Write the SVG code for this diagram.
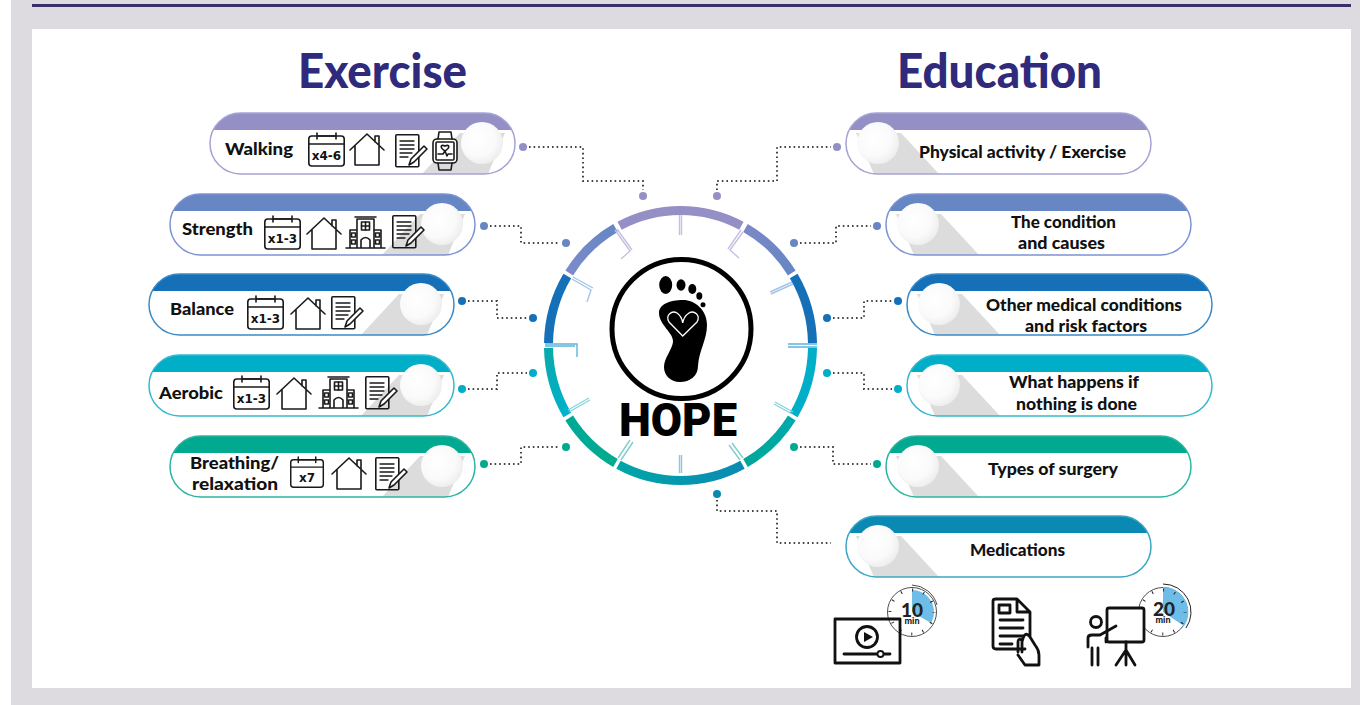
<svg xmlns="http://www.w3.org/2000/svg" width="1360" height="705" viewBox="0 0 1360 705">
<style>
.t{font-family:"Lato","Liberation Sans",sans-serif;font-weight:900;fill:#111}
.l{font-size:17px}
.h{font-family:"Lato","Liberation Sans",sans-serif;font-weight:900;font-size:48px;fill:#2f2a7c}
.k{fill:url(#kn)}
.sh{fill:#dcdcdc}
.ic{fill:none;stroke:#1a1a1a;stroke-width:1.6;stroke-linejoin:round;stroke-linecap:round}
.cal{font-family:"DejaVu Sans","Liberation Sans",sans-serif;font-weight:700;font-size:12px;fill:#111;text-anchor:middle}
.dot{fill:none;stroke:#444;stroke-width:2;stroke-dasharray:1.6 3}
.b{fill:none;stroke-width:1.5}
.seg{fill:none;stroke-width:9}
.tick{fill:none;stroke-width:1.4}
.bi{fill:none;stroke:#111;stroke-width:2.8;stroke-linejoin:round;stroke-linecap:round}
</style>
<defs>
<radialGradient id="kn" cx="0.4" cy="0.4" r="0.7"><stop offset="0" stop-color="#fff"/><stop offset="0.6" stop-color="#fafafa"/><stop offset="1" stop-color="#e9e9e9"/></radialGradient>
<linearGradient id="g2" gradientUnits="userSpaceOnUse" x1="745" y1="228" x2="792" y2="273"><stop offset="0" stop-color="#7a88c8"/><stop offset="1" stop-color="#6686c4"/></linearGradient>
<linearGradient id="g5" gradientUnits="userSpaceOnUse" x1="792" y1="418" x2="745" y2="463"><stop offset="0" stop-color="#00a9ab"/><stop offset="1" stop-color="#00a798"/></linearGradient>
<linearGradient id="g6" gradientUnits="userSpaceOnUse" x1="618" y1="465" x2="742" y2="465"><stop offset="0" stop-color="#00a6a8"/><stop offset="1" stop-color="#0a8ab3"/></linearGradient>
<linearGradient id="g7" gradientUnits="userSpaceOnUse" x1="615" y1="463" x2="569" y2="418"><stop offset="0" stop-color="#00ad8d"/><stop offset="1" stop-color="#00a898"/></linearGradient>
<linearGradient id="g8" gradientUnits="userSpaceOnUse" x1="567" y1="415" x2="548" y2="348"><stop offset="0" stop-color="#00b2cc"/><stop offset="1" stop-color="#0aa9a9"/></linearGradient>
<linearGradient id="g10" gradientUnits="userSpaceOnUse" x1="569" y1="273" x2="615" y2="228"><stop offset="0" stop-color="#7c8bcb"/><stop offset="1" stop-color="#6686c4"/></linearGradient>
<clipPath id="p305"><rect x="0" y="0" width="305" height="61" rx="30.5"/></clipPath>
<g id="cal" class="ic"><rect x="0.8" y="3" width="35.4" height="30" rx="3"/><path d="M1 11H36M9 0V6M28 0V6M9 3H28"/></g>
<g id="home" class="ic"><path d="M0 17L17 1L34 17M5 13V32H29V13M25 9V3H29V12"/></g>
<g id="doc" class="ic"><rect x="0.8" y="0.8" width="23" height="32" rx="1"/><path d="M5 7H19M5 11H19M5 15H19M5 19H17M5 23H13" stroke-width="1.3"/><path d="M14 31L16 25L29 12L32 15L19 28Z" fill="#fff"/></g>
<g id="bld" class="ic"><path d="M0 32H39M4 32V14H11V32M35 32V14H28V32M11 32V3H28V32M9 1H30M15 32V24Q19.500 19 24 24V32"/><rect x="15.500" y="6" width="8" height="8"/><path d="M19.500 6V14M15.500 10H23.500"/><rect x="5.500" y="17" width="4" height="4"/><rect x="5.500" y="24" width="4" height="4"/><rect x="29.500" y="17" width="4" height="4"/><rect x="29.500" y="24" width="4" height="4"/></g>
</defs>

<rect width="1360" height="705" fill="#dddae0"/>
<rect width="11" height="705" fill="#fff"/>
<rect x="32" y="4" width="1319" height="3" fill="#3a2f6b"/>
<rect x="32" y="29" width="1319" height="659" fill="#fff"/>

<text class="h" x="298" y="88" textLength="169" lengthAdjust="spacingAndGlyphs">Exercise</text>
<text class="h" x="897" y="88" textLength="205" lengthAdjust="spacingAndGlyphs">Education</text>

<g id="connectors">
<path class="dot" d="M529 147H583V181H643V190"/>
<path class="dot" d="M490 226H521V243H560"/>
<path class="dot" d="M468 301H497V318H527"/>
<path class="dot" d="M468 389H497V373H527"/>
<path class="dot" d="M490 464H521V447H560"/>
<path class="dot" d="M717 190V181H777V147H831"/>
<path class="dot" d="M800 243H836V226H871"/>
<path class="dot" d="M833 318H864V301H892"/>
<path class="dot" d="M833 373H864V389H892"/>
<path class="dot" d="M800 447H833V464H871"/>
<path class="dot" d="M717 500V511H777V543H831"/>
<g fill="#9490c6"><circle cx="523" cy="147" r="4"/><circle cx="643" cy="196" r="4"/><circle cx="717" cy="196" r="4"/><circle cx="837" cy="147" r="4"/></g>
<g fill="#6686c4"><circle cx="484" cy="226" r="4"/><circle cx="566" cy="243" r="4"/><circle cx="794" cy="243" r="4"/><circle cx="877" cy="226" r="4"/></g>
<g fill="#1570b8"><circle cx="462" cy="301" r="4"/><circle cx="533" cy="318" r="4"/><circle cx="827" cy="318" r="4"/><circle cx="898" cy="301" r="4"/></g>
<g fill="#00aec7"><circle cx="462" cy="389" r="4"/><circle cx="533" cy="373" r="4"/><circle cx="827" cy="373" r="4"/><circle cx="898" cy="389" r="4"/></g>
<g fill="#00a98f"><circle cx="484" cy="464" r="4"/><circle cx="566" cy="447" r="4"/><circle cx="794" cy="447" r="4"/><circle cx="877" cy="464" r="4"/></g>
<circle cx="717" cy="494" r="4" fill="#0a8ab3"/>
</g>

<g id="walking" transform="translate(210 113)">
<g clip-path="url(#p305)"><path class="sh" d="M250 20H295L278 61H212Z"/><rect width="305" height="17" fill="#9490c6"/></g>
<rect class="b" stroke="#a5a2d4" width="305" height="61" rx="30.5"/><circle class="k" cx="272" cy="30" r="21"/>
<text class="t l" x="15" y="42" textLength="68" lengthAdjust="spacingAndGlyphs">Walking</text>
<use href="#cal" x="98" y="20"/><text class="cal" x="116.500" y="47">x4-6</text>
<use href="#home" x="140" y="20"/><use href="#doc" x="185" y="21"/>
<g class="ic" stroke-width="2" transform="translate(222 18)"><rect x="1" y="8" width="24" height="24" rx="4" fill="#fff"/><rect x="4" y="11" width="18" height="18" rx="1"/><path d="M6 8L7 1H19L20 8M6 32L7 39H19L20 32M6 23H11L13 20L15 25L16 23H20"/><path d="M13 20C7 16 9 13 13 15C17 13 19 16 13 20Z"/></g>
</g>

<g id="strength" transform="translate(170 194)">
<g clip-path="url(#p305)"><path class="sh" d="M250 20H295L278 61H212Z"/><rect width="305" height="17" fill="#6686c4"/></g>
<rect class="b" stroke="#7d93d2" width="305" height="61" rx="30.5"/><circle class="k" cx="272" cy="30" r="21"/>
<text class="t l" x="12" y="41" textLength="71" lengthAdjust="spacingAndGlyphs">Strength</text>
<use href="#cal" x="94" y="22"/><text class="cal" x="112.500" y="49">x1-3</text>
<use href="#home" x="137" y="23"/><use href="#bld" x="176" y="22"/><use href="#doc" x="222" y="21"/>
</g>

<g id="balance" transform="translate(149 274)">
<g clip-path="url(#p305)"><path class="sh" d="M250 20H295L278 61H212Z"/><rect width="305" height="17" fill="#1570b8"/></g>
<rect class="b" stroke="#3a8ac6" width="305" height="61" rx="30.500"/><circle class="k" cx="272" cy="30" r="21"/>
<text class="t l" x="21" y="41" textLength="64" lengthAdjust="spacingAndGlyphs">Balance</text>
<use href="#cal" x="98" y="22"/><text class="cal" x="116.500" y="49">x1-3</text>
<use href="#home" x="142" y="23"/><use href="#doc" x="182" y="22"/>
</g>

<g id="aerobic" transform="translate(149 355)">
<g clip-path="url(#p305)"><path class="sh" d="M250 20H295L278 61H212Z"/><rect width="305" height="17" fill="#00aec7"/></g>
<rect class="b" stroke="#35b9cf" width="305" height="61" rx="30.500"/><circle class="k" cx="272" cy="30" r="21"/>
<text class="t l" x="10" y="44" textLength="64" lengthAdjust="spacingAndGlyphs">Aerobic</text>
<use href="#cal" x="84" y="21"/><text class="cal" x="102.500" y="48">x1-3</text>
<use href="#home" x="128" y="22"/><use href="#bld" x="170" y="21"/><use href="#doc" x="216" y="21"/>
</g>

<g id="breathing" transform="translate(170 436)">
<g clip-path="url(#p305)"><path class="sh" d="M250 20H295L278 61H212Z"/><rect width="305" height="17" fill="#00a98f"/></g>
<rect class="b" stroke="#2cb5a0" width="305" height="61" rx="30.500"/><circle class="k" cx="272" cy="30" r="21"/>
<text class="t l" x="20" y="33" textLength="89" lengthAdjust="spacingAndGlyphs">Breathing/</text>
<text class="t l" x="22" y="54" textLength="86" lengthAdjust="spacingAndGlyphs">relaxation</text>
<use href="#cal" transform="translate(120 21) scale(.92)"/><text class="cal" x="137" y="46">x7</text>
<use href="#home" x="162" y="21"/><use href="#doc" x="205" y="21"/>
</g>

<g id="physical" transform="translate(846 113)">
<g clip-path="url(#p305)"><path class="sh" d="M55 20H10L28 61H93Z"/><rect width="305" height="17" fill="#9490c6"/></g>
<rect class="b" stroke="#a5a2d4" width="305" height="61" rx="30.500"/><circle class="k" cx="32" cy="30" r="21"/>
<text class="t l" x="73" y="45" textLength="207" lengthAdjust="spacingAndGlyphs">Physical activity / Exercise</text>
</g>
<g id="condition" transform="translate(886 194)">
<g clip-path="url(#p305)"><path class="sh" d="M55 20H10L28 61H93Z"/><rect width="305" height="17" fill="#6686c4"/></g>
<rect class="b" stroke="#7d93d2" width="305" height="61" rx="30.500"/><circle class="k" cx="32" cy="30" r="21"/>
<text class="t l" x="125" y="34" textLength="105" lengthAdjust="spacingAndGlyphs">The condition</text>
<text class="t l" x="132" y="55" textLength="87" lengthAdjust="spacingAndGlyphs">and causes</text>
</g>
<g id="other" transform="translate(907 274)">
<g clip-path="url(#p305)"><path class="sh" d="M55 20H10L28 61H93Z"/><rect width="305" height="17" fill="#1570b8"/></g>
<rect class="b" stroke="#3a8ac6" width="305" height="61" rx="30.500"/><circle class="k" cx="32" cy="30" r="21"/>
<text class="t l" x="79" y="37" textLength="196" lengthAdjust="spacingAndGlyphs">Other medical conditions</text>
<text class="t l" x="118" y="58" textLength="122" lengthAdjust="spacingAndGlyphs">and risk factors</text>
</g>
<g id="what" transform="translate(907 355)">
<g clip-path="url(#p305)"><path class="sh" d="M55 20H10L28 61H93Z"/><rect width="305" height="17" fill="#00aec7"/></g>
<rect class="b" stroke="#35b9cf" width="305" height="61" rx="30.500"/><circle class="k" cx="32" cy="30" r="21"/>
<text class="t l" x="102" y="33" textLength="130" lengthAdjust="spacingAndGlyphs">What happens if</text>
<text class="t l" x="109" y="55" textLength="121" lengthAdjust="spacingAndGlyphs">nothing is done</text>
</g>
<g id="types" transform="translate(886 436)">
<g clip-path="url(#p305)"><path class="sh" d="M55 20H10L28 61H93Z"/><rect width="305" height="17" fill="#00a98f"/></g>
<rect class="b" stroke="#2cb5a0" width="305" height="61" rx="30.500"/><circle class="k" cx="32" cy="30" r="21"/>
<text class="t l" x="102" y="39" textLength="130" lengthAdjust="spacingAndGlyphs">Types of surgery</text>
</g>
<g id="medications" transform="translate(846 516)">
<g clip-path="url(#p305)"><path class="sh" d="M55 20H10L28 61H93Z"/><rect width="305" height="17" fill="#0a8ab3"/></g>
<rect class="b" stroke="#3ba5c4" width="305" height="61" rx="30.500"/><circle class="k" cx="32" cy="30" r="21"/>
<text class="t l" x="124" y="40" textLength="95" lengthAdjust="spacingAndGlyphs">Medications</text>
</g>

<g id="hope">
<path class="seg" stroke="#9490c6" d="M619.600 225.800A132 135 0 0 1 741.400 225.800"/>
<path class="seg" stroke="url(#g2)" d="M745.500 228A132 135 0 0 1 791.800 273"/>
<path class="seg" stroke="#1570b8" d="M793.700 276A132 135 0 0 1 812.500 343.100"/>
<path class="seg" stroke="#00aec7" d="M812.500 347.900A132 135 0 0 1 793.700 415"/>
<path class="seg" stroke="url(#g5)" d="M791.800 418A132 135 0 0 1 745.500 463"/>
<path class="seg" stroke="url(#g6)" d="M742.500 464.700A132 135 0 0 1 618.500 464.700"/>
<path class="seg" stroke="url(#g7)" d="M615.500 463A132 135 0 0 1 569.200 418"/>
<path class="seg" stroke="url(#g8)" d="M567.300 415A132 135 0 0 1 548.500 347.900"/>
<path class="seg" stroke="#1570b8" d="M548.500 343.100A132 135 0 0 1 567.300 276"/>
<path class="seg" stroke="url(#g10)" d="M569.200 273A132 135 0 0 1 615.500 228"/>
<g class="tick" stroke="#c3c1e3"><path d="M679.500 215V235M681.500 215V235"/><path d="M743 232L730 250L739 258M741 230L728 249"/><path d="M615 230L630 251L621 259M617 229L632 250"/></g>
<g class="tick" stroke="#a3c4e8"><path d="M572 279L591 290L587 302M573 277L593 288"/><path d="M792 282L770 292M793 284L771 294"/></g>
<g class="tick" stroke="#5fb4dd"><path d="M545 344H577V357M545 346H575"/><path d="M817 344H788M817 347H788"/></g>
<g class="tick" stroke="#8ad4e0"><path d="M568 410L589 398M569 412L590 400"/><path d="M793 412L775 402M792 414L774 404"/></g>
<g class="tick" stroke="#7fcfc8"><path d="M618 458L630 440M621 460L633 442"/><path d="M743 458L732 443M740 460L729 445"/></g>
<g class="tick" stroke="#8cc7da"><path d="M679.500 455V473M681.500 455V473"/></g>
<circle cx="681.500" cy="329" r="69.500" fill="#fff" stroke="#000" stroke-width="5"/>
<ellipse cx="665.700" cy="285" rx="6.500" ry="9" fill="#000"/>
<ellipse cx="681" cy="285" rx="4.500" ry="5.800" fill="#000"/>
<ellipse cx="692.300" cy="289" rx="4" ry="5" fill="#000"/>
<ellipse cx="699.300" cy="296" rx="3" ry="3.700" fill="#000"/>
<circle cx="703" cy="304.700" r="2.500" fill="#000"/>
<path fill="#000" d="M683 300C695 300 707 310 707 325C707 340 699 350 698 366C698 376 690 382 680 382C670 382 664 375 664 367C664 358 672 350 673 342C674 333 659 325 659 313C659 304 670 300 683 300Z"/>
<path fill="none" stroke="#fff" stroke-width="1.300" d="M682.700 336L669 322C665 315 672 310 677 313C680 315 682 318 682.700 323C683.500 318 686 315 689 313C694 310 701 315 697 322Z"/>
<text x="678" y="436" text-anchor="middle" font-family="Roboto,'Liberation Sans',sans-serif" font-weight="900" font-size="46" fill="#000" textLength="118" lengthAdjust="spacingAndGlyphs">HOPE</text>
</g>

<g id="video">
<circle cx="912" cy="612" r="24.500" fill="#fff" stroke="#222" stroke-width="0.800"/>
<path d="M912 612V590A22 22 0 0 1 931 623Z" fill="#6dbde8"/>
<circle cx="912" cy="612" r="22" fill="none" stroke="#222" stroke-width="3" stroke-dasharray="1 10.520" stroke-dashoffset="0.500"/>
<path d="M912 585A27 27 0 0 1 937 605" fill="none" stroke="#222" stroke-width="0.800"/>
<text x="912" y="617" text-anchor="middle" font-family="Lato,'Liberation Sans',sans-serif" font-weight="900" font-size="19" fill="#222">10</text>
<text x="912" y="624" text-anchor="middle" font-family="Lato,'Liberation Sans',sans-serif" font-weight="900" font-size="9" fill="#222">min</text>
<path class="bi" fill="#fff" d="M835 619H900V663H835Z" style="fill:none"/>
<circle class="bi" cx="867" cy="637" r="10.500"/>
<path d="M864 632L873 637L864 642Z" fill="#111"/>
<path class="bi" d="M844 654H890"/>
<circle cx="880.500" cy="654" r="3" fill="#fff" stroke="#111" stroke-width="1.800"/>
</g>
<g id="handout">
<path class="bi" d="M1025 649H996Q993 649 993 646V601Q993 599 996 599H1017L1030 612V636M1017 600V612H1030"/>
<rect class="bi" x="999" y="605" width="11" height="8" stroke-width="2"/>
<path class="bi" stroke-width="2.200" d="M1000 620H1023M1000 628H1023M1000 636H1023M1000 644H1012"/>
<path class="bi" fill="#fff" d="M1018 652V642Q1018 638 1022 640V652M1022 639V642C1024 634 1026 632 1030 637L1035 645Q1039 650 1039 655V665H1025L1018 655"/>
</g>
<g id="presenter">
<circle cx="912" cy="0" r="0" fill="none"/>
<circle cx="1163" cy="612" r="24.500" fill="#fff" stroke="#222" stroke-width="0.800"/>
<path d="M1163 612V587A25 25 0 0 1 1184 626Z" fill="#6dbde8"/>
<circle cx="1163" cy="612" r="22" fill="none" stroke="#222" stroke-width="3" stroke-dasharray="1 10.520" stroke-dashoffset="0.500"/>
<path d="M1163 584A28 28 0 0 1 1186 628" fill="none" stroke="#222" stroke-width="1"/>
<text x="1164" y="616" text-anchor="middle" font-family="Lato,'Liberation Sans',sans-serif" font-weight="900" font-size="19" fill="#222">20</text>
<text x="1163" y="623" text-anchor="middle" font-family="Lato,'Liberation Sans',sans-serif" font-weight="900" font-size="9" fill="#222">min</text>
<rect class="bi" x="1107" y="608" width="37" height="34" rx="2" fill="#fff" style="fill:#fff"/>
<circle class="bi" cx="1096" cy="622" r="5.500"/>
<path class="bi" d="M1088 647V638Q1088 635 1092 635H1100L1116 626M1092 648V665M1098 648V665M1106 638V642"/>
<path class="bi" d="M1126 642V650L1116 665M1126 650L1135 665M1126 650V665"/>
</g>
</svg>
